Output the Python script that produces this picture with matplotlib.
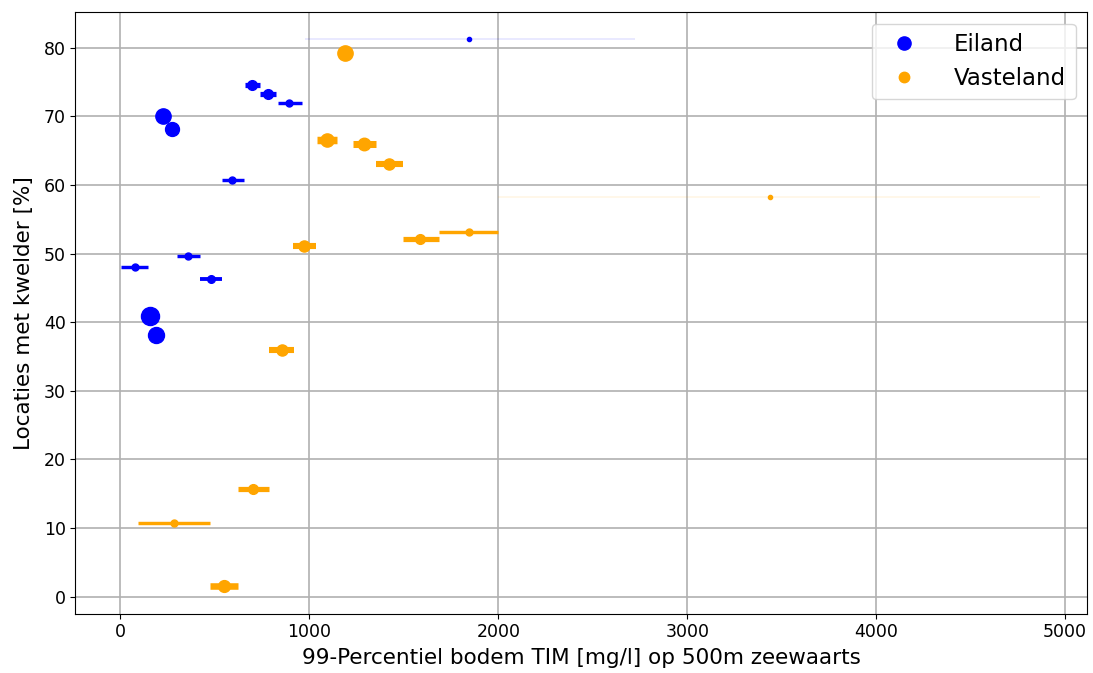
# Kwelder-aanwezigheid tegen bodem-TIM, eiland vs vasteland
import numpy as np
import matplotlib.pyplot as plt
from matplotlib.lines import Line2D

# Eiland: bin-midden, percentage kwelder, bingrenzen en gewicht (aantal locaties)
eiland_x = [1847, 698, 783, 894, 228, 275, 593, 79, 360, 481, 159, 190]
eiland_y = [81.2, 74.6, 73.3, 72.0, 70.0, 68.1, 60.7, 48.0, 49.6, 46.3, 40.9, 38.1]
eiland_lo = [979, 661, 741, 836, 200, 250, 540, 5, 302, 423, 140, 175]
eiland_hi = [2725, 741, 826, 963, 256, 300, 656, 148, 423, 540, 178, 205]
eiland_n = [1, 7, 7, 5, 11, 10, 5, 5, 5, 5.5, 13, 11.5]

# Vasteland
vaste_x = [1190, 1095, 1291, 1423, 974, 1587, 1847, 3439, 857, 704, 286, 550]
vaste_y = [79.3, 66.5, 66.0, 63.1, 51.1, 52.1, 53.1, 58.2, 35.9, 15.7, 10.8, 1.5]
vaste_lo = [1160, 1042, 1233, 1354, 915, 1497, 1688, 2000, 788, 624, 95, 476]
vaste_hi = [1220, 1148, 1354, 1497, 1037, 1688, 2000, 4868, 921, 788, 476, 624]
vaste_n = [11, 9.5, 9, 8, 8, 7, 5, 1, 8, 7, 5, 8.5]

fig, ax = plt.subplots(figsize=(10.93, 6.73), dpi=100)
fig.subplots_adjust(left=0.069, right=0.9945, top=0.982, bottom=0.088)


def teken(xs, ys, lo, hi, n, kleur):
    for x, y, a, b, w in zip(xs, ys, lo, hi, n):
        alpha = 1.0 if w > 2 else 0.1
        ax.errorbar(x, y, xerr=[[x - a], [b - x]], fmt='none', ecolor=kleur,
                    elinewidth=max(w * 0.65 - 0.8, 1.2), alpha=alpha, capsize=0, zorder=2)
        ax.plot(x, y, 'o', color=kleur, ms=w if w > 2 else 3, zorder=3)


teken(eiland_x, eiland_y, eiland_lo, eiland_hi, eiland_n, 'blue')
teken(vaste_x, vaste_y, vaste_lo, vaste_hi, vaste_n, 'orange')

ax.set_xlim(-238, 5116)
ax.grid(True, color='#b0b0b0', linewidth=1.2)
ax.set_axisbelow(True)
ax.set_xlabel('99-Percentiel bodem TIM [mg/l] op 500m zeewaarts', fontsize=15.5, labelpad=5)
ax.set_ylabel('Locaties met kwelder [%]', fontsize=15.5, labelpad=7)
ax.tick_params(labelsize=12.5)

handles = [Line2D([], [], ls='', marker='o', color='blue', ms=9.5, label='Eiland'),
           Line2D([], [], ls='', marker='o', color='orange', ms=7.5, label='Vasteland')]
ax.legend(handles=handles, loc='upper right', fontsize=16.5, handletextpad=1.2)

plt.savefig('out.png', dpi=100)
